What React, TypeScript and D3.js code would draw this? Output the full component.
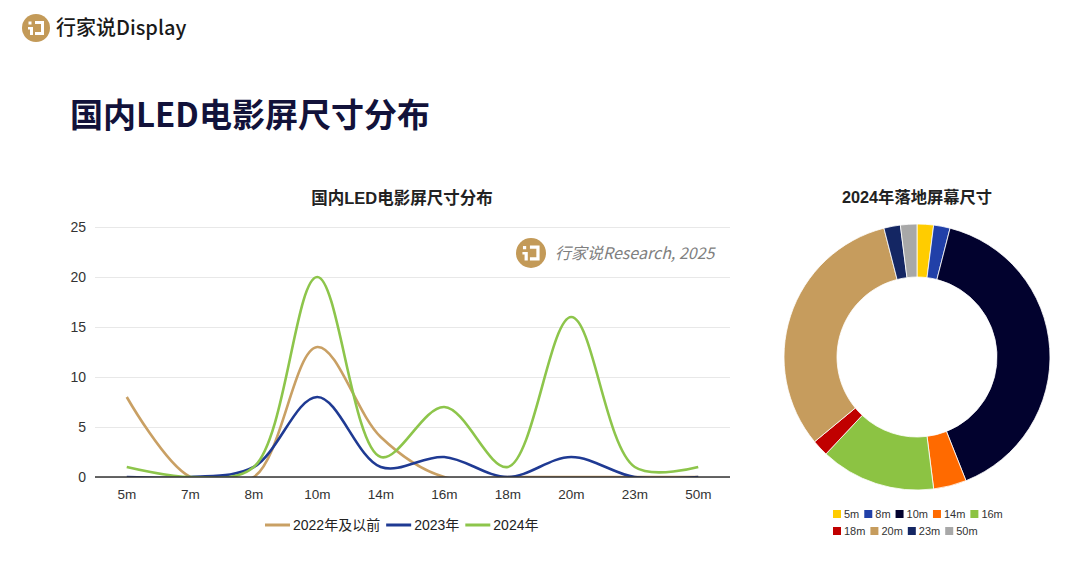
import * as d3 from "d3";
import { useEffect, useRef } from "react";

const categories = ["5m", "7m", "8m", "10m", "14m", "16m", "18m", "20m", "23m", "50m"];
const seriesNames = ["2022年及以前", "2023年", "2024年"];
const values2022 = [8, 0, 0, 13, 4, 0, 0, 0, 0, 0];
const values2023 = [0, 0, 1, 8, 1, 2, 0, 2, 0, 0];
const values2024 = [1, 0, 1, 20, 2, 7, 1, 16, 1, 1];
const seriesColors = ["#C9A064", "#1F3A93", "#8DC54B"];
const yTicks = [0, 5, 10, 15, 20, 25];

const donutLabels = ["5m", "8m", "10m", "14m", "16m", "18m", "20m", "23m", "50m"];
const donutValues = [1, 1, 20, 2, 7, 1, 16, 1, 1];
const donutColors = ["#FFCC00", "#2140A8", "#02022E", "#FF6A00", "#8CC343", "#C00000", "#C69C5D", "#142663", "#A8A8A8"];

const FONT = "'Liberation Sans', Arial, 'Noto Sans CJK SC', sans-serif";
const CJK = "'Noto Sans CJK SC', 'Liberation Sans', sans-serif";
const GOLD = "#C39A58";

function drawLogo(g: any, cx: number, cy: number, r: number) {
  const s = r / 14;
  const lg = g.append("g").attr("transform", `translate(${cx},${cy}) scale(${s})`);
  lg.append("circle").attr("r", 14).attr("fill", GOLD);
  // "i" dot and stem
  lg.append("rect").attr("x", -7.5).attr("y", -6.5).attr("width", 3).attr("height", 3).attr("fill", "#fff");
  lg.append("path").attr("d", "M-8,-1 L-3,-1 L-3,7 L-6,7 L-6,1.5 L-8,1.5 Z").attr("fill", "#fff");
  // bracket
  lg.append("path")
    .attr("d", "M-1,-7 L8,-7 L8,7 L-1,7 L-1,4 L5,4 L5,-4 L-1,-4 Z")
    .attr("fill", "#fff");
}

export default function App() {
  const ref = useRef<SVGSVGElement>(null);

  useEffect(() => {
    if (!ref.current) return;
    const svg = d3.select(ref.current);
    svg.selectAll("*").remove();

    svg.append("rect").attr("width", 1080).attr("height", 561).attr("fill", "#fff");

    // Header
    const header = svg.append("g");
    drawLogo(header, 36, 28, 14);
    header
      .append("text")
      .attr("x", 56)
      .attr("y", 35)
      .attr("font-family", CJK)
      .attr("font-size", 20)
      .attr("font-weight", 500)
      .attr("fill", "#1a1a1a")
      .text("行家说Display");

    svg
      .append("text")
      .attr("x", 70)
      .attr("y", 127)
      .attr("font-family", CJK)
      .attr("font-size", 33)
      .attr("font-weight", 700)
      .attr("fill", "#12123A")
      .text("国内LED电影屏尺寸分布");

    // Line chart
    const margin = { left: 95, right: 730, top: 227, bottom: 477 };
    const x = d3.scaleBand<string>().domain(categories).range([margin.left, margin.right]);
    const y = d3.scaleLinear().domain([0, 25]).range([margin.bottom, margin.top]);
    const cx = (c: string) => (x(c) ?? 0) + x.bandwidth() / 2;

    svg
      .append("text")
      .attr("x", 402)
      .attr("y", 204)
      .attr("text-anchor", "middle")
      .attr("font-family", FONT)
      .attr("font-size", 16.5)
      .attr("font-weight", 700)
      .attr("fill", "#222")
      .text("国内LED电影屏尺寸分布");

    const yAxis = svg
      .append("g")
      .attr("transform", `translate(${margin.left},0)`)
      .call(
        d3
          .axisLeft(y)
          .tickValues(yTicks)
          .tickSize(-(margin.right - margin.left))
          .tickPadding(9)
      );
    yAxis.select(".domain").remove();
    yAxis.selectAll(".tick line").attr("stroke", "#e8e8e8");
    yAxis
      .selectAll(".tick text")
      .attr("font-family", FONT)
      .attr("font-size", 14)
      .attr("fill", "#333");

    const xAxis = svg
      .append("g")
      .attr("transform", `translate(0,${margin.bottom})`)
      .call(d3.axisBottom(x).tickSize(0).tickPadding(12));
    xAxis.select(".domain").remove();
    xAxis
      .selectAll(".tick text")
      .attr("font-family", FONT)
      .attr("font-size", 13.5)
      .attr("fill", "#333");

    // Watermark
    drawLogo(svg, 531, 253, 15);
    svg
      .append("text")
      .attr("x", 555)
      .attr("y", 259)
      .attr("font-family", CJK)
      .attr("font-size", 16)
      .attr("font-style", "italic")
      .attr("fill", "#808080")
      .text("行家说Research, 2025");

    const defs = svg.append("defs");
    defs
      .append("clipPath")
      .attr("id", "plot-clip")
      .append("rect")
      .attr("x", margin.left)
      .attr("y", margin.top - 10)
      .attr("width", margin.right - margin.left)
      .attr("height", margin.bottom - margin.top + 10);

    const line = d3
      .line<number>()
      .x((_, i) => cx(categories[i]))
      .y((d) => y(d))
      .curve(d3.curveCatmullRom.alpha(0.5));

    const plot = svg.append("g").attr("clip-path", "url(#plot-clip)");
    [values2022, values2023, values2024].forEach((vals, i) => {
      plot
        .append("path")
        .attr("d", line(vals) ?? "")
        .attr("fill", "none")
        .attr("stroke", seriesColors[i])
        .attr("stroke-width", 2.6)
        .attr("stroke-linejoin", "round");
    });

    // zero baseline
    svg
      .append("line")
      .attr("x1", margin.left)
      .attr("x2", margin.right)
      .attr("y1", y(0))
      .attr("y2", y(0))
      .attr("stroke", "#333")
      .attr("stroke-width", 1.3);

    // Legend
    const legend = svg.append("g").attr("transform", "translate(265,525)");
    let lx = 0;
    seriesNames.forEach((name, i) => {
      const item = legend.append("g").attr("transform", `translate(${lx},0)`);
      item
        .append("line")
        .attr("x1", 0)
        .attr("x2", 25)
        .attr("stroke", seriesColors[i])
        .attr("stroke-width", 3);
      const t = item
        .append("text")
        .attr("x", 28)
        .attr("y", 5)
        .attr("font-family", FONT)
        .attr("font-size", 14)
        .attr("fill", "#222")
        .text(name);
      lx += 28 + (t.node() as SVGTextElement).getComputedTextLength() + 6;
    });

    // Donut chart
    const dcx = 917;
    const dcy = 357;
    svg
      .append("text")
      .attr("x", dcx)
      .attr("y", 203)
      .attr("text-anchor", "middle")
      .attr("font-family", FONT)
      .attr("font-size", 16.3)
      .attr("font-weight", 700)
      .attr("fill", "#222")
      .text("2024年落地屏幕尺寸");

    const pie = d3.pie<number>().sort(null).value((d) => d);
    const arc = d3.arc<d3.PieArcDatum<number>>().innerRadius(80).outerRadius(133);
    svg
      .append("g")
      .attr("transform", `translate(${dcx},${dcy})`)
      .selectAll("path")
      .data(pie(donutValues))
      .enter()
      .append("path")
      .attr("d", arc as any)
      .attr("fill", (_: any, i: number) => donutColors[i])
      .attr("stroke", "#fff")
      .attr("stroke-width", 0.8);

    const dl = svg.append("g");
    const rows = [donutLabels.slice(0, 5), donutLabels.slice(5)];
    let idx = 0;
    rows.forEach((row, r) => {
      let px = 833;
      const py = 514 + r * 17;
      row.forEach((lab) => {
        dl.append("rect")
          .attr("x", px)
          .attr("y", py - 4)
          .attr("width", 8)
          .attr("height", 8)
          .attr("fill", donutColors[idx]);
        const t = dl
          .append("text")
          .attr("x", px + 11)
          .attr("y", py + 4)
          .attr("font-family", FONT)
          .attr("font-size", 11)
          .attr("fill", "#333")
          .text(lab);
        px += 11 + (t.node() as SVGTextElement).getComputedTextLength() + 5;
        idx++;
      });
    });
  }, []);

  return (
    <svg
      ref={ref}
      width={1080}
      height={561}
      style={{ position: "absolute", left: 0, top: 0 }}
    />
  );
}
